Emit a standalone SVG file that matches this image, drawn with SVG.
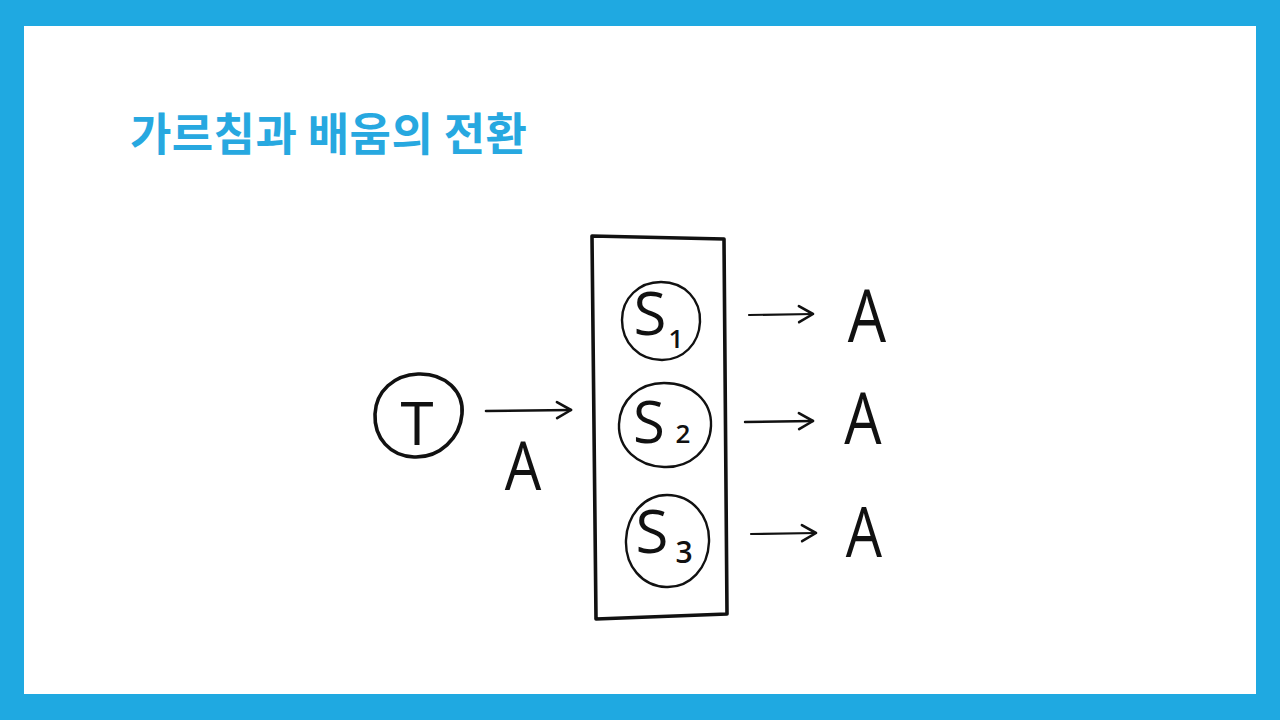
<svg xmlns="http://www.w3.org/2000/svg" width="1280" height="720" viewBox="0 0 1280 720">
  <defs>
    <marker id="chev" markerUnits="userSpaceOnUse" markerWidth="24" markerHeight="24" viewBox="0 0 24 24" refX="20" refY="12" orient="auto">
      <path d="M6,4 L20,12 L6,20" fill="none" stroke="#111" stroke-width="2.6" stroke-linecap="round" stroke-linejoin="round"/>
    </marker>
  </defs>
  <style>
    .ink { fill: none; stroke: #111; stroke-width: 3.6; stroke-linecap: round; stroke-linejoin: round; }
    .thin { fill: none; stroke: #111; stroke-width: 2.4; }
    .hand { font-family: "Open Sans", "DejaVu Sans", sans-serif; font-weight: 400; fill: #111; }
    .sub { font-family: "Open Sans", "DejaVu Sans", sans-serif; font-weight: 600; fill: #111; }
    .title { font-family: "Noto Sans CJK KR", "Noto Sans", sans-serif; font-weight: 700; fill: #27a8e0; }
  </style>

  <!-- frame -->
  <rect x="0" y="0" width="1280" height="720" fill="#1fa9e1"/>
  <rect x="24" y="26" width="1232" height="668" fill="#ffffff"/>

  <text class="title" x="130" y="151" font-size="45" textLength="397" lengthAdjust="spacing">가르침과 배움의 전환</text>

  <g id="connectors">
    <line x1="486" y1="411" x2="571" y2="410" stroke="#111" stroke-width="2.6" stroke-linecap="round" marker-end="url(#chev)"/>
    <line x1="749" y1="315" x2="813" y2="314" stroke="#111" stroke-width="2.2" stroke-linecap="round" marker-end="url(#chev)"/>
    <line x1="745" y1="422" x2="813" y2="421" stroke="#111" stroke-width="2.4" stroke-linecap="round" marker-end="url(#chev)"/>
    <line x1="751" y1="534" x2="816" y2="533" stroke="#111" stroke-width="2.2" stroke-linecap="round" marker-end="url(#chev)"/>
    <text class="hand" transform="translate(523,490) scale(0.85,1)" font-size="68" text-anchor="middle">A</text>
  </g>

  <g id="node-T">
    <path class="ink" d="M418,374 C446,373 464,392 462,414 C460,438 440,458 414,457 C390,456 374,438 375,414 C376,391 394,375 418,374 Z"/>
    <text class="hand" x="417" y="445" font-size="60" text-anchor="middle">T</text>
  </g>

  <g id="students-box">
    <path class="ink" d="M592,236 L724,239 L727,614 L596,619 Z"/>
  </g>

  <g id="node-S1">
    <path class="thin" d="M661,282 C685,282 701,300 700,322 C699,344 683,360 662,360 C639,360 622,343 622,320 C622,298 639,282 661,282 Z"/>
    <text class="hand" x="650" y="335" font-size="60" text-anchor="middle">S</text>
    <text class="sub" x="676" y="348" font-size="26" text-anchor="middle">1</text>
  </g>

  <g id="node-S2">
    <path class="thin" d="M664,383 C692,383 712,401 711,426 C710,450 690,468 664,467 C637,466 618,448 619,424 C620,400 639,383 664,383 Z"/>
    <text class="hand" x="649" y="443" font-size="58" text-anchor="middle">S</text>
    <text class="sub" x="683" y="443" font-size="26" text-anchor="middle">2</text>
  </g>

  <g id="node-S3">
    <path class="thin" d="M667,495 C692,495 710,516 709,542 C708,568 690,588 666,587 C642,586 625,566 626,540 C627,515 644,495 667,495 Z"/>
    <text class="hand" x="652" y="553" font-size="60" text-anchor="middle">S</text>
    <text class="sub" x="684" y="563" font-size="30" text-anchor="middle">3</text>
  </g>

  <g id="node-A1">
    <text class="hand" transform="translate(867,342) scale(0.82,1)" font-size="74" text-anchor="middle">A</text>
  </g>
  <g id="node-A2">
    <text class="hand" transform="translate(863,444) scale(0.82,1)" font-size="72" text-anchor="middle">A</text>
  </g>
  <g id="node-A3">
    <text class="hand" transform="translate(864,557) scale(0.82,1)" font-size="70" text-anchor="middle">A</text>
  </g>
</svg>
